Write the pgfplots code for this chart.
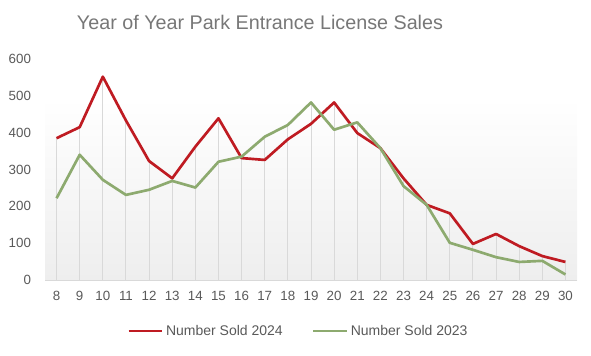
\documentclass[border=0pt]{standalone}
\usepackage{fontspec}
\setmainfont{Liberation Sans}
\usepackage{pgfplots}
\usepackage{pgfplotstable}
\pgfplotsset{compat=1.18}
\definecolor{red24}{HTML}{BF1B22}
\definecolor{green23}{HTML}{8DAA6F}
\definecolor{txt}{HTML}{595959}
\definecolor{ttl}{HTML}{777777}
\definecolor{gridc}{HTML}{D9D9D9}
\definecolor{shadebot}{HTML}{EEEEEE}
\pgfplotstableread{
day s2024 s2023
8 385 222
9 415 340
10 552 272
11 433 231
12 323 245
13 276 269
14 362 251
15 439 321
16 331 335
17 326 389
18 382 421
19 424 482
20 482 408
21 399 428
22 358 358
23 276 255
24 204 204
25 181 101
26 98 82
27 125 62
28 92 49
29 65 52
30 49 15
}\sales
\begin{document}
\begin{tikzpicture}[x=1pt,y=1pt]
\useasboundingbox (0,0) rectangle (443.25,266.25);
\node[font=\fontsize{14.8}{17}\selectfont, text=ttl] at (195,249.75) {Year of Year Park Entrance License Sales};
\begin{axis}[
  at={(33.75pt,56.25pt)}, anchor=south west,
  width=399pt, height=165.75pt, scale only axis,
  xmin=7.5, xmax=30.5, ymin=0, ymax=600,
  axis x line*=bottom, axis y line*=left,
  x axis line style={draw=gridc, line width=0.75pt, -},
  y axis line style={draw=none},
  xtick={8,...,30}, ytick={0,100,...,600},
  major tick length=0pt,
  tick style={draw=none},
  ticklabel style={font=\fontsize{10}{12}\selectfont, text=txt},
  yticklabel style={xshift=-7pt},
  xticklabel style={yshift=-5pt},
  /pgf/number format/assume math mode=true,
  clip=false,
  legend style={at={(0.477,-0.231)}, anchor=center, draw=none, fill=none,
    font=\fontsize{10.5}{12}\selectfont, text=txt,
    /tikz/every even column/.append style={column sep=20pt}},
  legend columns=2,
  legend cell align=left,
  legend image code/.code={\draw[#1] (0pt,0pt) -- (25pt,0pt);},
]
\fill[top color=white, bottom color=shadebot, draw=none] (axis cs:7.5,0) rectangle (axis cs:30.5,495);
\addplot[ycomb, draw=gridc, line width=0.75pt, forget plot] table[x=day, y expr={max(\thisrow{s2024},\thisrow{s2023})}] {\sales};
\draw[gridc, line width=0.75pt] (axis cs:7.5,0) -- (axis cs:30.5,0);
\addplot[red24, line width=2pt, line join=round] table[x=day, y=s2024] {\sales};
\addlegendentry{Number Sold 2024}
\addplot[green23, line width=2pt, line join=round] table[x=day, y=s2023] {\sales};
\addlegendentry{Number Sold 2023}
\end{axis}
\end{tikzpicture}
\end{document}
